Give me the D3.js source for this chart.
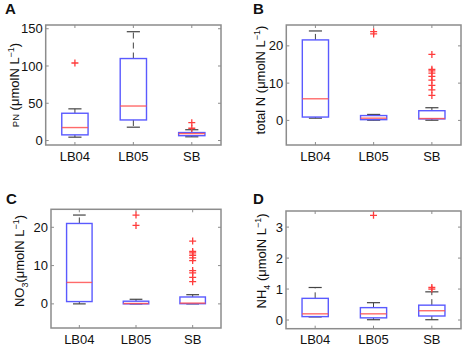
<!DOCTYPE html>
<html>
<head>
<meta charset="utf-8">
<script src="https://cdn.jsdelivr.net/npm/d3@7"></script>
<style>
  body { margin: 0; background: #fff; }
  text { font-family: "Liberation Sans", Arial, sans-serif; fill: #111; }
</style>
</head>
<body>
<svg id="main" width="462" height="344"></svg>
<script>
var categories = ["LB04", "LB05", "SB"];

// [lower whisker, q1, median, q3, upper whisker] per site
var pnStats = [[4.5, 7.6, 17.4, 36.6, 42.5], [17.9, 27.6, 46.3, 110, 146], [5, 6.5, 9.3, 10.7, 14.5]];
var pnOutliers = [[104], [], [16.5, 24]];
var pnTicks = [0, 50, 100, 150];

var totalNStats = [[0.6, 0.9, 5.8, 21.6, 24], [0.05, 0.2, 0.6, 1.3, 1.6], [0.05, 0.4, 0.5, 2.6, 3.4]];
var totalNOutliers = [[], [23.2, 23.8], [6.7, 8.2, 9.4, 10.8, 11.8, 12.7, 13.3, 13.7, 17.7]];
var totalNTicks = [0, 10, 20];

var no3Stats = [[0, 0.6, 5.6, 21, 23.2], [0, 0, 0.1, 0.7, 1.2], [0, 0.05, 0.2, 1.8, 2.4]];
var no3Outliers = [[], [20.5, 23.2], [5.8, 6.9, 8.1, 8.7, 11.3, 12.0, 12.7, 13.3, 13.7, 16.4]];
var no3Ticks = [0, 10, 20];

var nh4Stats = [[0.1, 0.11, 0.2, 0.7, 1.05], [0.01, 0.07, 0.2, 0.4, 0.56], [0.01, 0.13, 0.3, 0.48, 0.91]];
var nh4Outliers = [[], [3.38], [1.0, 1.05]];
var nh4Ticks = [0, 1, 2, 3];

var panels = [
    {letter: "A", stats: pnStats, outliers: pnOutliers, ticks: pnTicks, domain: [-6, 155],
     box: [45.7, 25, 221, 145], letterPos: [5, 14], labelX: 18.5, labelY: 85, pre: "PN", preSize: 9.5, sub: null},
    {letter: "B", stats: totalNStats, outliers: totalNOutliers, ticks: totalNTicks, domain: [-6.6, 25.6],
     box: [286.3, 25, 461, 145], letterPos: [253, 14], labelX: 265, labelY: 80, pre: "total N", preSize: 13, sub: null},
    {letter: "C", stats: no3Stats, outliers: no3Outliers, ticks: no3Ticks, domain: [-6.3, 24.7],
     box: [51, 209.3, 221, 328], letterPos: [6, 204], labelX: 24, labelY: 261, pre: "NO", preSize: 13, sub: "3"},
    {letter: "D", stats: nh4Stats, outliers: nh4Outliers, ticks: nh4Ticks, domain: [-0.28, 3.52],
     box: [286, 211, 461, 328.7], letterPos: [253, 204], labelX: 265.5, labelY: 261, pre: "NH", preSize: 13, sub: "4"}
];

var svg = d3.select("svg#main");
var frameColor = "#8c8c8c";

function drawPanel(p) {
    var x0 = p.box[0], y0 = p.box[1], x1 = p.box[2], y1 = p.box[3];
    var x = d3.scalePoint().domain(categories).range([x0, x1]).padding(0.5);
    var y = d3.scaleLinear().domain(p.domain).range([y1, y0]);
    var step = x.step();
    var bw = step * 0.45, cw = bw * 0.5;
    var g = svg.append("g");

    // frame + inside ticks
    g.append("rect").attr("x", x0).attr("y", y0).attr("width", x1 - x0).attr("height", y1 - y0)
        .attr("fill", "none").attr("stroke", frameColor).attr("stroke-width", 1.5);
    p.ticks.forEach(function(t) {
        g.append("line").attr("x1", x0).attr("x2", x0 + 3).attr("y1", y(t)).attr("y2", y(t)).attr("stroke", frameColor);
        g.append("line").attr("x1", x1 - 3).attr("x2", x1).attr("y1", y(t)).attr("y2", y(t)).attr("stroke", frameColor);
        g.append("text").attr("x", x0 - 3).attr("y", y(t)).attr("dy", "0.35em")
            .attr("text-anchor", "end").attr("font-size", 13).text(t);
    });
    categories.forEach(function(c) {
        g.append("line").attr("x1", x(c)).attr("x2", x(c)).attr("y1", y1).attr("y2", y1 - 3).attr("stroke", frameColor);
        g.append("line").attr("x1", x(c)).attr("x2", x(c)).attr("y1", y0).attr("y2", y0 + 3).attr("stroke", frameColor);
        g.append("text").attr("x", x(c)).attr("y", y1 + 15.5)
            .attr("text-anchor", "middle").attr("font-size", 13).text(c);
    });

    var boxes = g.selectAll("g.bx").data(categories).join("g").attr("class", "bx");
    boxes.each(function(c, i) {
        var s = p.stats[i], cx = x(c), b = d3.select(this);
        b.append("line").attr("x1", cx).attr("x2", cx).attr("y1", y(s[3])).attr("y2", y(s[4]))
            .attr("stroke", "#444").attr("stroke-dasharray", "6,4");
        b.append("line").attr("x1", cx).attr("x2", cx).attr("y1", y(s[1])).attr("y2", y(s[0]))
            .attr("stroke", "#444").attr("stroke-dasharray", "6,4");
        [s[0], s[4]].forEach(function(v) {
            b.append("line").attr("x1", cx - cw / 2).attr("x2", cx + cw / 2).attr("y1", y(v)).attr("y2", y(v))
                .attr("stroke", "#444").attr("stroke-width", 1.2);
        });
        b.append("rect").attr("x", cx - bw / 2).attr("width", bw)
            .attr("y", y(s[3])).attr("height", Math.max(0.5, y(s[1]) - y(s[3])))
            .attr("fill", "none").attr("stroke", "#5a5aff").attr("stroke-width", 1.4);
        b.append("line").attr("x1", cx - bw / 2).attr("x2", cx + bw / 2).attr("y1", y(s[2])).attr("y2", y(s[2]))
            .attr("stroke", "#ff5050").attr("stroke-width", 1.4).attr("stroke-opacity", 0.85);
        p.outliers[i].forEach(function(v) {
            b.append("path").attr("d", "M" + (cx - 3.5) + "," + y(v) + "h7M" + cx + "," + (y(v) - 3.5) + "v7")
                .attr("stroke", "#ff3c3c").attr("stroke-width", 1.3);
        });
    });

    g.append("text").attr("x", p.letterPos[0]).attr("y", p.letterPos[1])
        .attr("font-size", 15).attr("font-weight", "bold").text(p.letter);

    var lab = g.append("text").attr("transform", "translate(" + p.labelX + "," + p.labelY + ") rotate(-90)")
        .attr("text-anchor", "middle").attr("font-size", 13);
    lab.append("tspan").attr("font-size", p.preSize).text(p.pre);
    if (p.sub) lab.append("tspan").attr("font-size", 9).attr("dy", 4).text(p.sub);
    lab.append("tspan").attr("dy", p.sub ? -4 : 0).text((p.sub === "3" ? "" : " ") + "(\u03bcmolN L");
    lab.append("tspan").attr("font-size", 9).attr("dy", -5).text("\u22121");
    lab.append("tspan").attr("dy", 5).text(")");
}

panels.forEach(drawPanel);
</script>
</body>
</html>
